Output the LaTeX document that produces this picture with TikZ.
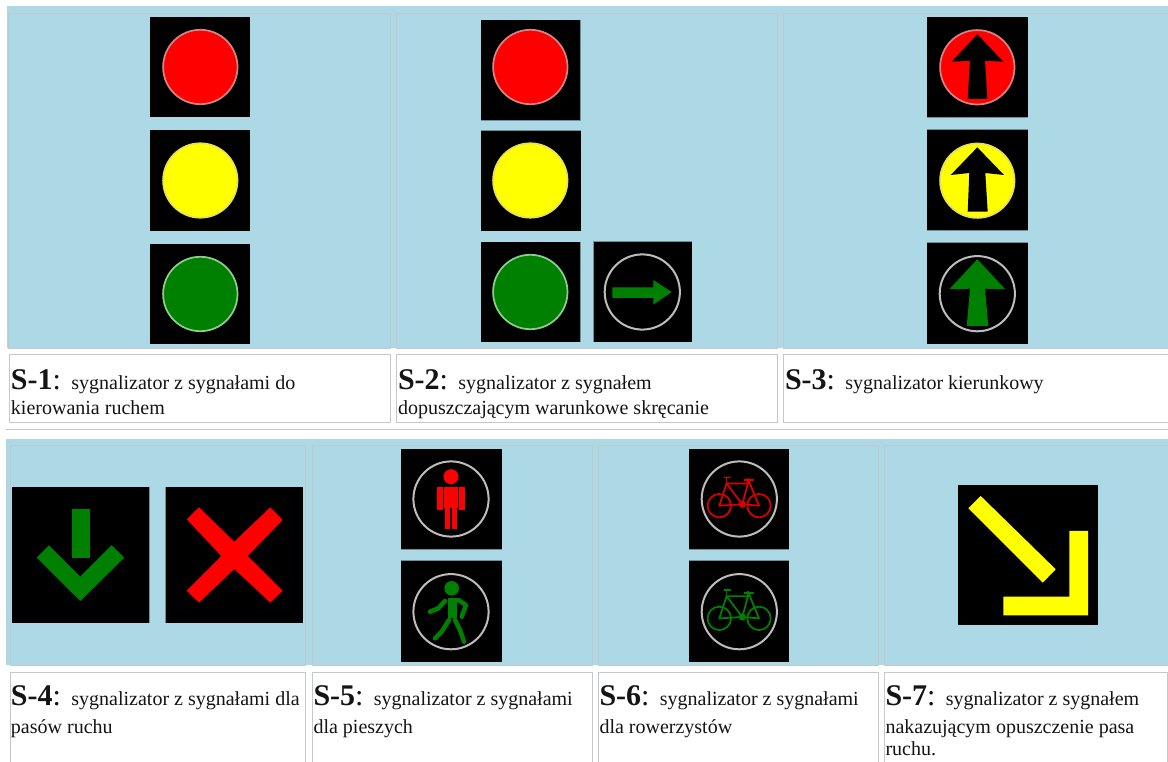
\documentclass[tikz,border=0pt]{standalone}
\usepackage{fontspec}
\setmainfont{Liberation Serif}
\definecolor{tabblue}{HTML}{ADD8E6}
\definecolor{cellgray}{HTML}{C4C8CA}
\definecolor{sigred}{HTML}{FF0000}
\definecolor{sigyellow}{HTML}{FFFF00}
\definecolor{siggreen}{HTML}{008000}
\definecolor{ringgray}{HTML}{BDBDBD}
\definecolor{edgeblur}{HTML}{6F8F9B}
\tikzset{
  cellbox/.style={draw=cellgray,line width=1.1pt},
  panel/.style={fill=black},
  ring/.style={draw=ringgray,line width=1.5pt},
  softedge/.style={draw=edgeblur,line width=0.75pt},
  captext/.style={anchor=base west,inner sep=0pt,outer sep=0pt,font=\fontsize{15}{17}\selectfont,text=black!92},
  legstroke/.style={line width=3.4pt,line cap=round,line join=round},
  bikestroke/.style={line width=1.3pt,line cap=round,line join=round},
}
\newcommand{\bigS}[1]{{\fontsize{22.5}{24}\selectfont\textbf{#1}:}\hspace{7.8pt}}
% lamp: panel x1 y1 x2 y2, circle cx cy, fill colour, ring colour
\newcommand{\lamp}[8]{%
  \fill[panel] (#1,#2) rectangle (#3,#4);
  \filldraw[fill=#7,draw=#8,line width=1.3pt] (#5,#6) circle (37.2);
}
\newcommand{\darkpanel}[6]{%
  \fill[panel] (#1,#2) rectangle (#3,#4);
  \draw[ring] (#5,#6) circle (37.6);
}
\newcommand{\bicycle}[3]{%
  \begin{scope}[shift={(#1,#2)},draw=#3,bikestroke]
    \draw (-20,6.7) circle (11.7);
    \draw (19.7,6.7) circle (11.7);
    \draw (-20,6.7) -- (3,5.3) -- (-12.7,-15.5) -- (-20,6.7);
    \draw (-12.7,-15.5) -- (8.7,-15.5) -- (3,5.3) -- (19.7,6.7) -- (8.7,-20);
    \draw (-15,-21.5) -- (-9,-21.5) (-12.7,-21.5) -- (-12.7,-15.5);
    \draw (5,-19) -- (14,-19) (8.7,-20) -- (8.7,-15.5);
    \fill[#3] (3,5.3) circle (3.6);
  \end{scope}}
\begin{document}
\begin{tikzpicture}[x=0.75pt,y=-0.75pt]
\useasboundingbox (0,0) rectangle (1168,762);
\fill[white] (0,0) rectangle (1168,762);
% table backgrounds
\fill[tabblue] (7,6.5) rectangle (1168,348.5);
\fill[tabblue] (6,439) rectangle (1168,665.5);
\draw[cellgray,line width=1.1pt] (6,429.5) -- (1168,429.5);
% top row cells
\draw[cellbox] (8.5,13.5) rectangle (390.5,348.5);
\draw[cellbox] (396.5,13.5) rectangle (777.5,348.5);
\draw[cellbox] (1168,13.5) -- (783.5,13.5) -- (783.5,348.5) -- (1168,348.5);
\draw[cellbox,fill=white] (9.5,354.5) rectangle (390.5,422.5);
\draw[cellbox,fill=white] (396.5,354.5) rectangle (777.5,422.5);
\draw[cellbox,fill=white] (1168,354.5) -- (783.5,354.5) -- (783.5,422.5) -- (1168,422.5);
% bottom row cells
\draw[cellbox] (10.5,445.5) rectangle (305.5,665.5);
\draw[cellbox] (312.5,445.5) rectangle (592.5,665.5);
\draw[cellbox] (598.5,445.5) rectangle (878.5,665.5);
\draw[cellbox] (1168,445.5) -- (884.5,445.5) -- (884.5,665.5) -- (1168,665.5);
\draw[cellbox,fill=white] (10.5,762) -- (10.5,672.5) -- (305.5,672.5) -- (305.5,762);
\draw[cellbox,fill=white] (312.5,762) -- (312.5,672.5) -- (592.5,672.5) -- (592.5,762);
\draw[cellbox,fill=white] (598.5,762) -- (598.5,672.5) -- (878.5,672.5) -- (878.5,762);
\draw[cellbox,fill=white] (1168,762) -- (1168,672.5) -- (884.5,672.5) -- (884.5,762);
% S-1
\lamp{150}{17}{250}{117}{200.3}{67}{sigred}{red!30!ringgray}
\lamp{150}{130}{250}{231}{200.3}{180.5}{sigyellow}{yellow!60!ringgray}
\lamp{150}{244}{250}{344}{200.3}{294}{siggreen}{green!25!ringgray}
% S-2
\lamp{481}{20}{580.5}{120}{530.3}{67}{sigred}{red!30!ringgray}
\lamp{481}{131}{580.5}{231}{530.3}{180.5}{sigyellow}{yellow!60!ringgray}
\lamp{481}{242}{580.5}{342}{530.3}{292}{siggreen}{green!25!ringgray}
\darkpanel{593.3}{241.7}{692}{341.7}{642.3}{292}
\fill[siggreen] (612.3,287.3) -- (653.3,287.3) -- (653.3,280) -- (671.7,292) -- (653.3,304.7) -- (653.3,298) -- (612.3,298) -- cycle;
\draw[softedge] (580.7,242) -- (580.7,342) (481,131) -- (580.5,131) (593,242) -- (593,342) (593.3,242) -- (692,242) (481,120.3) -- (580.7,120.3) (580.7,20) -- (580.7,120);
% S-3
\lamp{927}{17}{1028}{117.3}{977.3}{67.3}{sigred}{red!30!ringgray}
\fill[black] (977.3,34.3) -- (1003.3,61.7) -- (985,60.7) -- (987.3,99) -- (967.7,99) -- (970,60.7) -- (951.7,61.7) -- cycle;
\lamp{927}{130}{1028}{230.3}{977.3}{180.7}{sigyellow}{yellow!60!ringgray}
\fill[black] (977.3,147.3) -- (1004,175) -- (985.3,173) -- (987.7,211.7) -- (967.7,211.7) -- (969.3,173) -- (950.7,175) -- cycle;
\darkpanel{927}{243.3}{1028}{344}{977.3}{293.7}
\fill[siggreen] (977.3,259.3) -- (1005.3,289.3) -- (985,288.7) -- (988.3,326) -- (966.7,326) -- (970,288.7) -- (949.3,289.3) -- cycle;
\draw[softedge] (927,117.7) -- (1028,117.7) (927,129.7) -- (1028,129.7) (927,230.7) -- (1028,230.7) (927,243) -- (1028,243);
% S-4
\fill[panel] (12,487) rectangle (149,623);
\fill[siggreen] (71.7,509) rectangle (89.7,558);
\fill[siggreen] (49,545.3) -- (80.3,576.7) -- (111.7,545.3) -- (124.3,557.7) -- (80.3,601) -- (36.7,557.7) -- cycle;
\fill[panel] (166.3,487) rectangle (303,623);
\fill[sigred] (199,507.3) -- (234.3,541.7) -- (270.3,507.3) -- (282.7,520) -- (247.7,556) -- (282.7,590.7) -- (270.3,602.7) -- (234.3,569) -- (199,602.7) -- (186.7,590.7) -- (221.3,556) -- (186.7,519.3) -- cycle;
\draw[softedge] (149.5,487) -- (149.5,623) (165.8,487) -- (165.8,623);
% S-5
\darkpanel{401}{449}{502}{549}{451}{499}
\fill[sigred] (451,476.7) circle (7.5);
\fill[sigred] (444.3,486.7) rectangle (458.3,508.3);
\fill[sigred] (437.3,486.7) rectangle (442.7,510);
\fill[sigred] (459.3,486.7) rectangle (465,510);
\fill[sigred] (445,508.3) rectangle (450,529);
\fill[sigred] (452,508.3) rectangle (457.3,529);
\darkpanel{401}{561}{502}{662}{451}{611.7}
\fill[siggreen] (451.7,588.3) circle (7.3);
\fill[siggreen] (448.3,598.3) rectangle (456.7,618.3);
\draw[siggreen,legstroke] (445,601) -- (438.3,608.3) -- (430,611.7);
\draw[siggreen,legstroke] (458.3,600) -- (466,605) -- (461.7,616.7);
\draw[siggreen,legstroke] (449,620) -- (441.7,631.7) -- (435,638.3);
\draw[siggreen,legstroke] (455,620) -- (460,630) -- (464,641.7);
\draw[softedge] (401,549.5) -- (502,549.5) (401,561) -- (502,561);
% S-6
\darkpanel{689}{449}{789}{549}{739.3}{499}
\bicycle{739.3}{499}{red!85!black}
\darkpanel{689}{561}{789}{662}{739.3}{611.7}
\bicycle{739.3}{611.7}{green!50!black}
\draw[softedge] (689,549.5) -- (789,549.5) (689,561) -- (789,561);
% S-7
\fill[panel] (958,485) rectangle (1098,625);
\fill[sigyellow] (980.7,496) -- (1055.7,569.3) -- (1042.7,582.7) -- (968.3,508.3) -- cycle;
\fill[sigyellow] (1069.3,531) -- (1088,531) -- (1088,615.3) -- (1003.3,615.3) -- (1003.3,596.7) -- (1069.3,596.7) -- cycle;
% captions
\node[captext] (c1a) at (11,389.5) {\bigS{S-1}sygnalizator z sygnałami do};
\node[captext] (c1b) at (11,415) {kierowania ruchem};
\node[captext] (c2a) at (398,389.5) {\bigS{S-2}sygnalizator z sygnałem};
\node[captext] (c2b) at (398,415) {dopuszczającym warunkowe skręcanie};
\node[captext] (c3a) at (785,389.5) {\bigS{S-3}sygnalizator kierunkowy};
\node[captext] (c4a) at (11,705.7) {\bigS{S-4}sygnalizator z sygnałami dla};
\node[captext] (c4b) at (11,733.3) {pasów ruchu};
\node[captext] (c5a) at (313.5,705.7) {\bigS{S-5}sygnalizator z sygnałami};
\node[captext] (c5b) at (313.5,733.3) {dla pieszych};
\node[captext] (c6a) at (599.5,705.7) {\bigS{S-6}sygnalizator z sygnałami};
\node[captext] (c6b) at (599.5,733.3) {dla rowerzystów};
\node[captext] (c7a) at (885.5,705.7) {\bigS{S-7}sygnalizator z sygnałem};
\node[captext] (c7b) at (885.5,733.3) {nakazującym opuszczenie pasa};
\node[captext] (c7c) at (885.5,755) {ruchu.};
\end{tikzpicture}
\end{document}
